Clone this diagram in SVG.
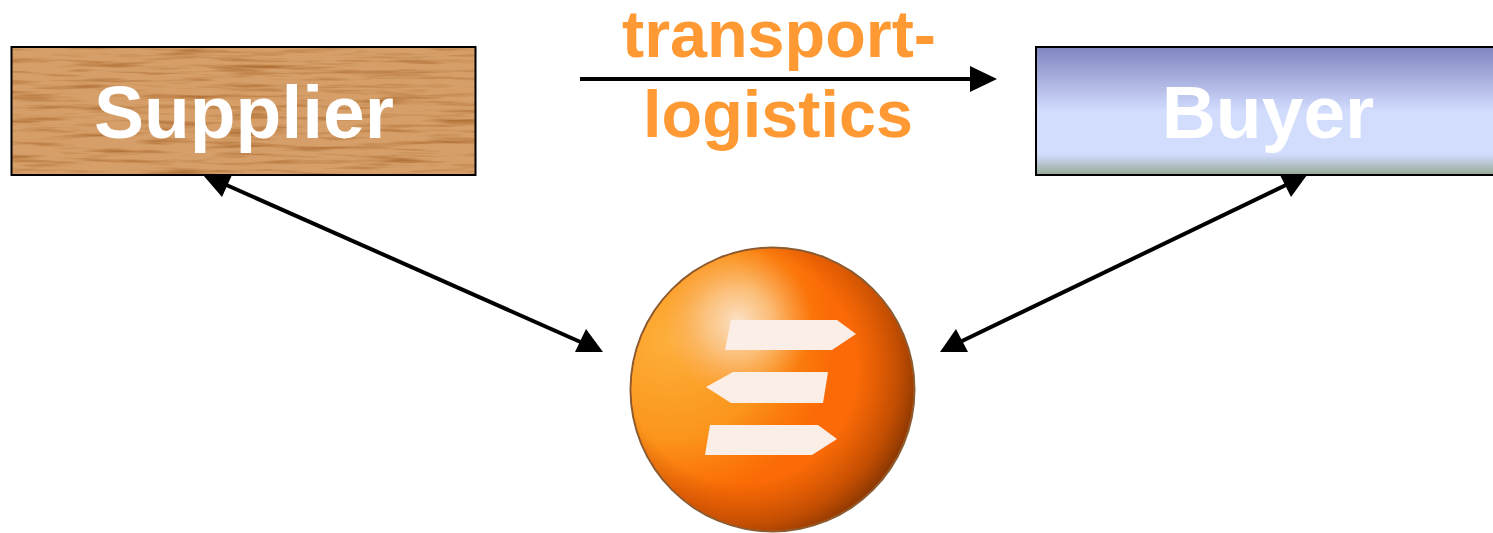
<svg xmlns="http://www.w3.org/2000/svg" width="1493" height="533" viewBox="0 0 1493 533">
<style>
text{font-family:"Liberation Sans",Arial,sans-serif;font-weight:bold;text-anchor:middle}
.lab{font-size:75px;fill:#fff}
.or{font-size:66.500px;fill:#ff9933}
.box{stroke:#000;stroke-width:2;fill:none}
.ln{stroke:#000;stroke-width:4;fill:none}
.sign{fill:#fbeee6}
</style>
<defs>
<linearGradient id="buyerFill" x1="0" y1="0" x2="0" y2="1">
<stop offset="0" stop-color="#8084c0"/><stop offset=".5" stop-color="#d2dcfd"/><stop offset=".84" stop-color="#d2dcfd"/><stop offset="1" stop-color="#96a895"/>
</linearGradient>
<filter id="wood" x="0" y="0" width="1" height="1" color-interpolation-filters="sRGB">
<feTurbulence type="fractalNoise" baseFrequency="0.014 0.2" numOctaves="3" seed="7"/>
<feColorMatrix values="0 0 0 0 .69  0 0 0 0 .44  0 0 0 0 .21  2.4 0 0 0 -1.12"/>
<feComposite in2="SourceGraphic" operator="over"/>
</filter>
<radialGradient id="rim" gradientUnits="userSpaceOnUse" cx="742" cy="368" r="185">
<stop offset=".62" stop-color="#b84600" stop-opacity="0"/><stop offset=".84" stop-color="#a84000" stop-opacity=".65"/><stop offset="1" stop-color="#6e2c02" stop-opacity=".95"/>
</radialGradient>
<radialGradient id="ballWarm" gradientUnits="userSpaceOnUse" cx="670" cy="340" r="165">
<stop offset="0" stop-color="#fdb03c"/><stop offset=".6" stop-color="#fb9a1e" stop-opacity=".9"/><stop offset="1" stop-color="#fb8a10" stop-opacity="0"/>
</radialGradient>
<radialGradient id="ballHi" gradientUnits="userSpaceOnUse" cx="738" cy="322" r="75">
<stop offset="0" stop-color="#fbe6d0" stop-opacity=".95"/><stop offset=".45" stop-color="#fbcfa0" stop-opacity=".7"/><stop offset="1" stop-color="#fbb070" stop-opacity="0"/>
</radialGradient>
</defs>
<g id="connectors">
<path class="ln" d="M580 79H975"/><path d="M970 66L997 79L970 92Z"/>
<path class="ln" d="M222 183L585 344"/>
<path d="M203 175L232 175L222 197Z"/><path d="M603 352L575 352L586 329Z"/>
<path class="ln" d="M1288 184L960 342"/>
<path d="M1307 175L1280 175L1291 197Z"/><path d="M940 352L968 352L956 329Z"/>
</g>
<g id="supplier">
<rect x="11.500" y="47" width="464" height="128" fill="#d69f69" filter="url(#wood)"/>
<rect class="box" x="11.500" y="47" width="464" height="128"/>
<text class="lab" x="244" y="138">Supplier</text>
</g>
<g id="buyer">
<rect x="1036" y="47" width="459" height="128" fill="url(#buyerFill)"/>
<rect class="box" x="1036" y="47" width="459" height="128"/>
<text class="lab" x="1268" y="138">Buyer</text>
</g>
<g id="transport-logistics">
<text class="or" x="779" y="57">transport-</text>
<text class="or" x="778" y="137">logistics</text>
</g>
<g id="logistics-ball">
<circle cx="772.500" cy="389.500" r="143" fill="#8a5a30"/>
<circle cx="772.500" cy="389.500" r="141" fill="#fb6a06"/>
<circle cx="772.500" cy="389.500" r="141" fill="url(#ballWarm)"/>
<circle cx="772.500" cy="389.500" r="141" fill="url(#ballHi)"/>
<circle cx="772.500" cy="389.500" r="141" fill="url(#rim)"/>
<path class="sign" d="M731 320H837L856 334L832 350H725Z"/>
<path class="sign" d="M706 387L733 372H828L823 403H731Z"/>
<path class="sign" d="M710 425H818L837 439L812 455H705Z"/>
</g>
</svg>
